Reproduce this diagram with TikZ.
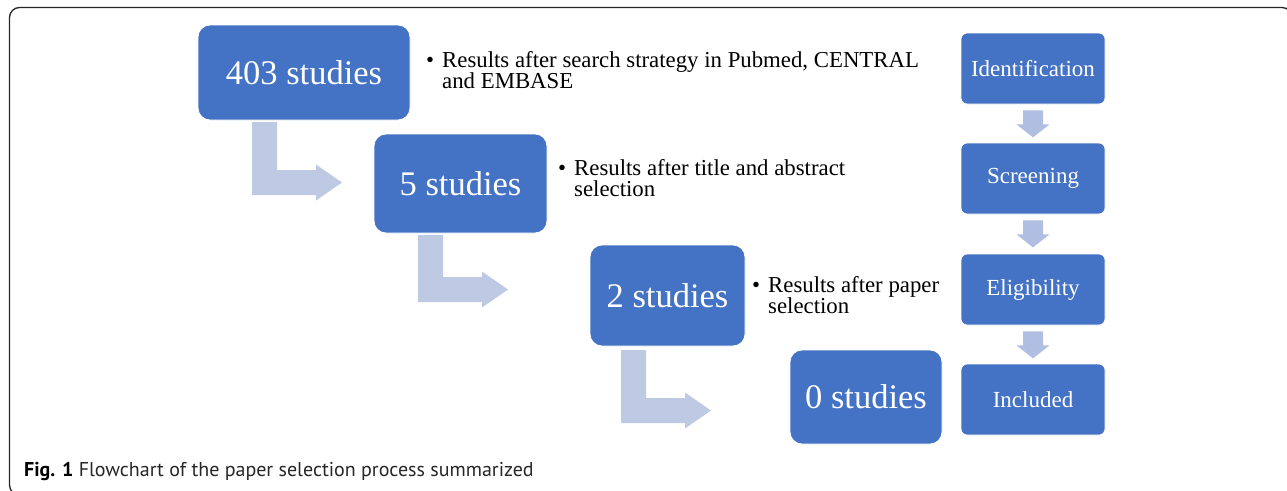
\documentclass[tikz,border=0pt]{standalone}
\usepackage{fontspec}
\setmainfont{Liberation Serif}
\newfontfamily\capfont{PT Sans}
\usetikzlibrary{calc}
\definecolor{boxblue}{RGB}{68,114,196}
\definecolor{arrowlight}{RGB}{190,201,228}
\definecolor{arrowsmall}{RGB}{176,190,225}
\tikzset{
  bigbox/.style={fill=boxblue, draw=white, line width=0.8pt, rounded corners=12pt, text=white, font=\fontsize{34.5}{38}\selectfont, inner sep=0pt},
  stagebox/.style={fill=boxblue, draw=white, line width=0.8pt, rounded corners=6pt, text=white, font=\fontsize{23}{26}\selectfont, minimum width=144pt, minimum height=71pt, inner sep=0pt},
  bullettext/.style={anchor=base west, font=\fontsize{22.8}{21.5}\selectfont, inner sep=0pt},
  bentarrow/.style={fill=arrowlight, draw=none},
  downarrow/.style={fill=arrowsmall, draw=none},
  frame/.style={draw=black!85, line width=1.3pt, rounded corners=10pt},
  captext/.style={anchor=base west, inner sep=0pt, text=black!85, font=\capfont\fontsize{20}{22}\selectfont},
}
\newcommand\bentarr[3]{\fill[bentarrow] (#1,#2) -- ++(25,0) -- ++(0,#3-25) -- ++(39,0) -- ++(0,-5.5) -- ++(26,18) -- ++(-26,18) -- ++(0,-5.5) -- ++(-64,0) -- cycle;}
\newcommand\dnarrow[1]{\fill[downarrow] ($(#1.south)+(-10,6)$) -- ++(20,0) -- ++(0,14) -- ++(6.5,0) -- ++(-16.5,13) -- ++(-16.5,-13) -- ++(6.5,0) -- cycle;}
\newcommand\bul[2]{\parbox[t]{520pt}{\parindent=0pt\hangindent=16pt\hangafter=1\makebox[16pt][l]{\textbullet}#1\hfil\break #2}}
\begin{document}
\begin{tikzpicture}[x=1pt,y=-1pt]
\useasboundingbox (0,0) rectangle (1287,490);
\clip (0,0) rectangle (1287,490);
\draw[frame] (9.5,7.5) rectangle (1292,495);

% main boxes
\node[bigbox, minimum width=212pt, minimum height=95pt] (s403) at (304,72.5) {403 studies};
\node[bigbox, minimum width=173pt, minimum height=99pt] (s5) at (460.5,183.5) {5 studies};
\node[bigbox, minimum width=155pt, minimum height=101pt] (s2) at (667.5,295.5) {2 studies};
\node[bigbox, minimum width=152pt, minimum height=94pt] (s0) at (866,397) {0 studies};

% bent arrows
\bentarr{252}{122}{73}
\bentarr{418}{235}{67}
\bentarr{621}{350}{73}

% bullet texts
\node[bullettext] (t1) at (426,67) {\bul{Results after search strategy in Pubmed, CENTRAL}{and EMBASE}};
\node[bullettext] (t2) at (558,175) {\bul{Results after title and abstract}{selection}};
\node[bullettext] (t3) at (752,292) {\bul{Results after paper}{selection}};

% stage column
\node[stagebox] (id) at (1033,68.5) {Identification};
\node[stagebox] (sc) at (1033,178.5) {Screening};
\node[stagebox] (el) at (1033,289.5) {Eligibility};
\node[stagebox] (in) at (1033,399.5) {Included};
\dnarrow{id}
\dnarrow{sc}
\dnarrow{el}

% caption
\node[captext] (cap) at (24,476) {\textbf{\color{black}Fig. 1} Flowchart of the paper selection process summarized};
\end{tikzpicture}
\end{document}
